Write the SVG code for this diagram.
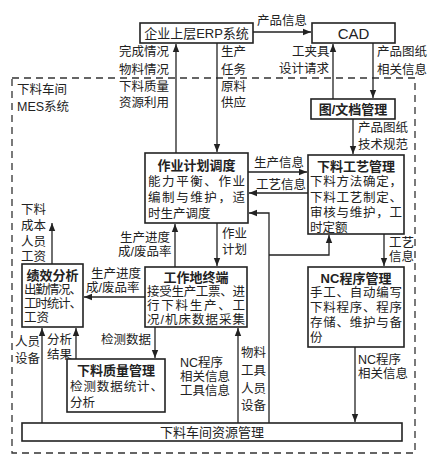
<svg xmlns="http://www.w3.org/2000/svg" width="439" height="462" viewBox="0 0 439 462">
<style>
.box{fill:#fff;stroke:#222;stroke-width:1.6}
.ln{fill:none;stroke:#222;stroke-width:1.3}
.dash{fill:none;stroke:#333;stroke-width:1.3;stroke-dasharray:7,5}
text{font-family:"Liberation Sans","Noto Sans CJK SC",sans-serif;fill:#222;font-size:12.5px;dominant-baseline:central}
.t{font-weight:bold;text-anchor:middle;font-size:13px}
.n{font-weight:normal}
</style>
<defs>
<marker id="ah" markerUnits="userSpaceOnUse" markerWidth="8" markerHeight="8" viewBox="0 0 8 8" refX="8" refY="4" orient="auto">
<path d="M0,0.8 L8,4 L0,7.2 Z" fill="#222"/>
</marker>
</defs>
<rect width="439" height="462" fill="#fff"/>
<path class="dash" d="M12,78 H415 V453 H12 Z"/>
<text x="17" y="90">下料车间<tspan x="17" dy="17">MES系统</tspan></text>

<g id="connectors">
<path class="ln" d="M253,32 H311" marker-end="url(#ah)"/>
<path class="ln" d="M333,99 V44" marker-end="url(#ah)"/>
<path class="ln" d="M373,43 V98" marker-end="url(#ah)"/>
<path class="ln" d="M353,119 V154" marker-end="url(#ah)"/>
<path class="ln" d="M217,43 V152" marker-end="url(#ah)"/>
<path class="ln" d="M176,153 V44" marker-end="url(#ah)"/>
<path class="ln" d="M248,172 H307" marker-end="url(#ah)"/>
<path class="ln" d="M308,193 H249" marker-end="url(#ah)"/>
<path class="ln" d="M269,423 V213 H249" marker-end="url(#ah)"/>
<path class="ln" d="M269,255 H329 V235" marker-end="url(#ah)"/>
<path class="ln" d="M217,223 V266" marker-end="url(#ah)"/>
<path class="ln" d="M175,267 V224" marker-end="url(#ah)"/>
<path class="ln" d="M145,297 H84" marker-end="url(#ah)"/>
<path class="ln" d="M52,264 V223" marker-end="url(#ah)"/>
<path class="ln" d="M42,423 V328" marker-end="url(#ah)"/>
<path class="ln" d="M76,359 V328" marker-end="url(#ah)"/>
<path class="ln" d="M155,327 V358" marker-end="url(#ah)"/>
<path class="ln" d="M238,423 V328" marker-end="url(#ah)"/>
<path class="ln" d="M384,234 V266" marker-end="url(#ah)"/>
<path class="ln" d="M355,347 V422" marker-end="url(#ah)"/>
</g>

<g id="labels">
<text x="257" y="21">产品信息</text>
<text x="292" y="52">工夹具<tspan x="279" dy="17">设计请求</tspan></text>
<text x="377" y="52">产品图纸<tspan x="377" dy="18">相关信息</tspan></text>
<text x="358" y="128">产品图纸<tspan x="358" dy="17">技术规范</tspan></text>
<text x="119" y="52">完成情况<tspan x="119" dy="17.5">物料情况</tspan><tspan x="119" dy="17">下料质量</tspan><tspan x="119" dy="16.5">资源利用</tspan></text>
<text x="221" y="52">生产<tspan x="221" dy="17.5">任务</tspan><tspan x="221" dy="17">原料</tspan><tspan x="221" dy="16.5">供应</tspan></text>
<text x="254" y="163">生产信息</text>
<text x="256" y="185">工艺信息</text>
<text x="222" y="234">作业<tspan x="222" dy="16">计划</tspan></text>
<text x="120" y="238">生产进度<tspan x="118" dy="14">成/废品率</tspan></text>
<text x="91" y="274">生产进度<tspan x="86" dy="14">成/废品率</tspan></text>
<text x="21" y="210">下料<tspan x="21" dy="16">成本</tspan><tspan x="21" dy="16">人员</tspan><tspan x="21" dy="15">工资</tspan></text>
<text x="15" y="342">人员<tspan x="15" dy="17">设备</tspan></text>
<text x="47" y="340">分析<tspan x="47" dy="15">结果</tspan></text>
<text x="101" y="340">检测数据</text>
<text x="180" y="363">NC程序<tspan x="180" dy="14">相关信息</tspan><tspan x="180" dy="14">工具信息</tspan></text>
<text x="241" y="353">物料<tspan x="241" dy="18">工具</tspan><tspan x="241" dy="18">人员</tspan><tspan x="241" dy="17">设备</tspan></text>
<text x="389" y="243">工艺<tspan x="389" dy="14">信息</tspan></text>
<text x="358" y="360">NC程序<tspan x="358" dy="14">相关信息</tspan></text>
</g>

<g id="erp">
<rect class="box" x="140" y="23" width="113" height="20"/>
<text class="t n" x="196.5" y="33">企业上层ERP系统</text>
</g>
<g id="cad">
<rect class="box" x="312" y="23" width="83" height="20"/>
<text class="t n" x="353.5" y="33" style="font-size:15px">CAD</text>
</g>
<g id="doc">
<rect class="box" x="311" y="99" width="84" height="20"/>
<text class="t" x="353" y="109">图/文档管理</text>
</g>
<g id="plan">
<rect class="box" x="145" y="153" width="103" height="70"/>
<text class="t" x="196.5" y="165">作业计划调度</text>
<text x="148" y="182"><tspan textLength="97">能力平衡、作业</tspan><tspan x="148" dy="16" textLength="97">编制与维护，适</tspan><tspan x="148" dy="16">时生产调度</tspan></text>
</g>
<g id="process">
<rect class="box" x="308" y="155" width="96" height="79"/>
<text class="t" x="356" y="166">下料工艺管理</text>
<text x="310" y="182"><tspan textLength="92">下料方法确定，</tspan><tspan x="310" dy="15.5" textLength="92">下料工艺制定、</tspan><tspan x="310" dy="15" textLength="92">审核与维护，工</tspan><tspan x="310" dy="15">时定额</tspan></text>
</g>
<g id="terminal">
<rect class="box" x="145" y="267" width="102" height="60"/>
<text class="t" x="196" y="277">工作地终端</text>
<text x="147" y="292"><tspan textLength="98">接受生产工票、进</tspan><tspan x="147" dy="14" textLength="98">行下料生产、工</tspan><tspan x="147" dy="14" textLength="98">况/机床数据采集</tspan></text>
</g>
<g id="perf">
<rect class="box" x="22" y="264" width="61" height="63"/>
<text class="t" x="52.5" y="275">绩效分析</text>
<text x="24" y="290"><tspan textLength="58">出勤情况、</tspan><tspan x="24" dy="14" textLength="58">工时统计、</tspan><tspan x="24" dy="14">工资</tspan></text>
</g>
<g id="quality">
<rect class="box" x="67" y="359" width="98" height="53"/>
<text class="t" x="116" y="370">下料质量管理</text>
<text x="70" y="387"><tspan textLength="93">检测数据统计、</tspan><tspan x="70" dy="16">分析</tspan></text>
</g>
<g id="nc">
<rect class="box" x="308" y="267" width="96" height="80"/>
<text class="t" x="356" y="278">NC程序管理</text>
<text x="310" y="293"><tspan textLength="92">手工、自动编写</tspan><tspan x="310" dy="15" textLength="92">下料程序、程序</tspan><tspan x="310" dy="15" textLength="92">存储、维护与备</tspan><tspan x="310" dy="15">份</tspan></text>
</g>
<g id="resource">
<rect class="box" x="22" y="423" width="380" height="18"/>
<text class="t n" x="212" y="432">下料车间资源管理</text>
</g>
</svg>
